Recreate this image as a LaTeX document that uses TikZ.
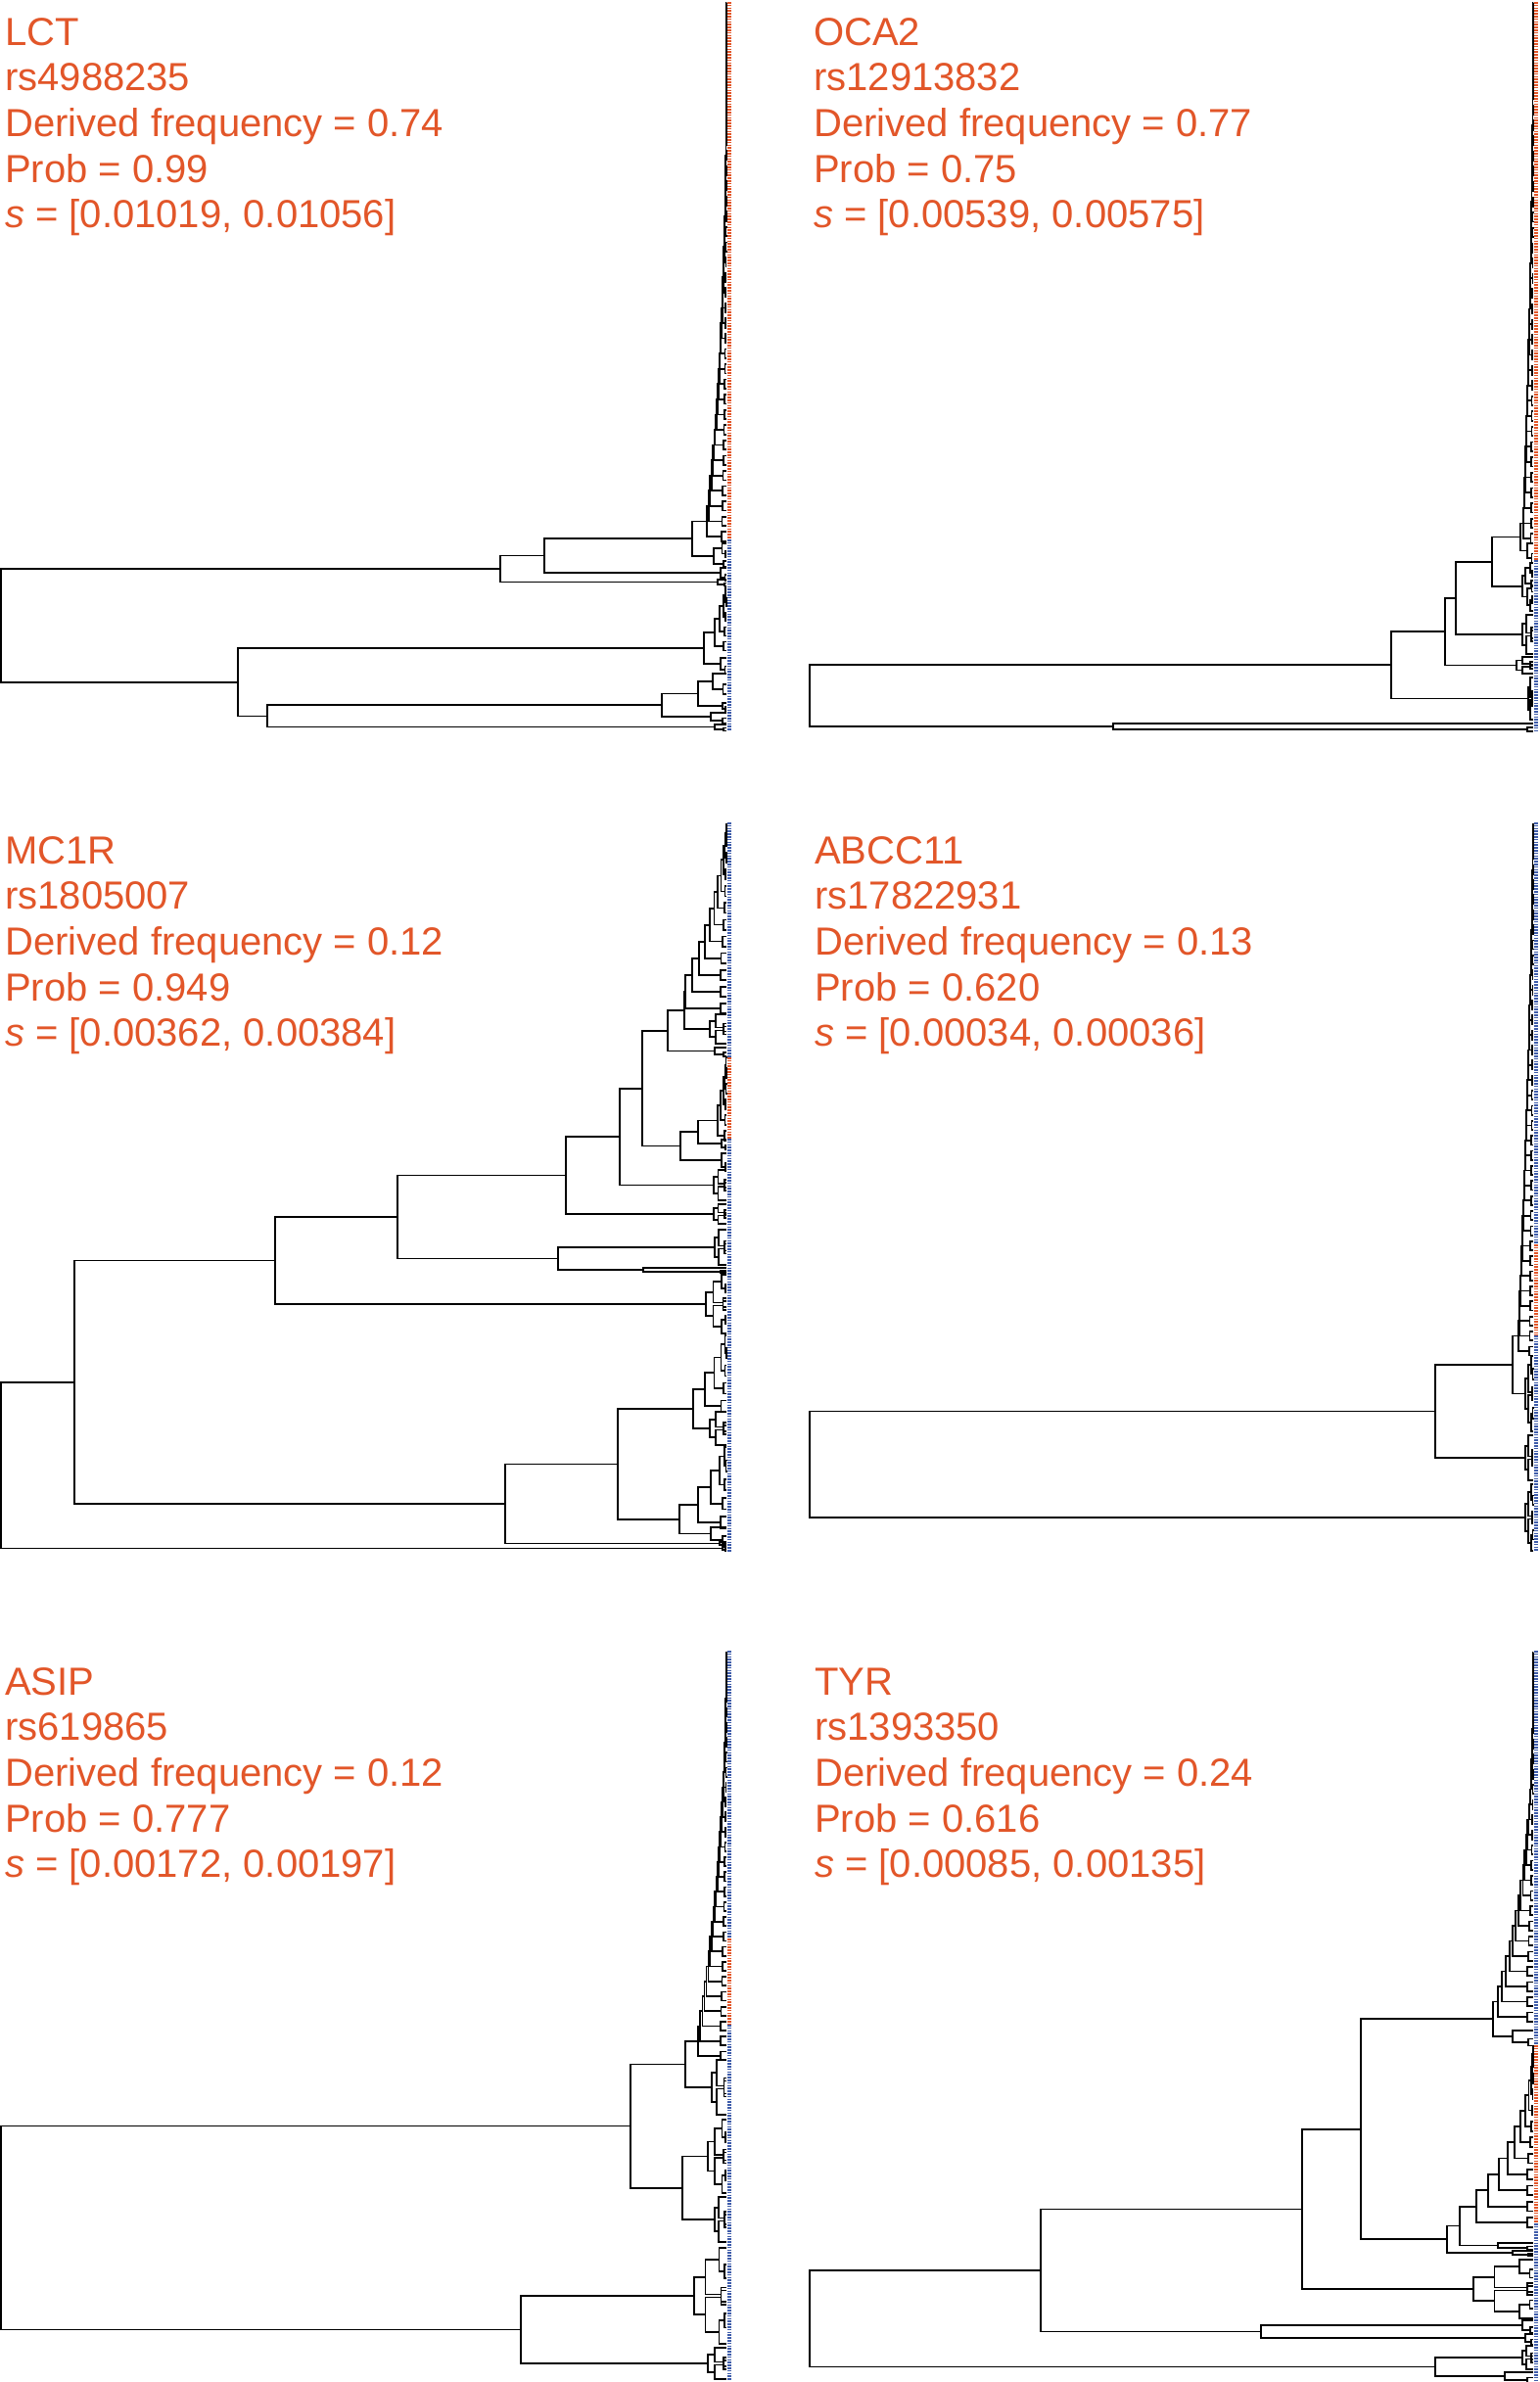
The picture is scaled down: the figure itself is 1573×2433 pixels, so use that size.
\documentclass[tikz,border=0pt]{standalone}
\usepackage{fontspec}
\setmainfont{Liberation Sans}
\usetikzlibrary{calc}

\definecolor{derived}{RGB}{226,86,41}
\definecolor{ancestral}{RGB}{62,92,170}

% parent node #1 at x=#2, joining children #3 and #4
\newcommand{\elbow}[4]{%
  \path let \p1=(#3), \p2=(#4) in coordinate (#1) at ({#2*1pt},{(\y1+\y2)/2});
  \draw[branch] (#3) -- (#3 -| #1) -- (#4 -| #1) -- (#4);
}

% ladder clade #1: base x #2, tip x #3, first tip y #4, last tip y #5, #6 steps, bend #7
\newcommand{\cater}[7]{%
  \pgfmathsetmacro{\stepy}{(#5-(#4))/(#6-1)}%
  \pgfmathsetmacro{\minih}{0.3*abs(\stepy)}%
  \xdef\prevx{#3}\xdef\prevy{#4}%
  \foreach \j in {2,...,#6}{%
    \pgfmathsetmacro{\nodex}{#3-(#3-(#2))*((\j-1)/(#6-1))^#7}%
    \pgfmathsetmacro{\tipy}{#4+(\j-1)*\stepy}%
    \pgfmathsetmacro{\nodey}{(\prevy+\tipy)/2}%
    \pgfmathsetmacro{\minix}{#3-min(0.25*(#3-\nodex),6)}%
    \draw[branch] (\prevx,\prevy) -| (\nodex,\tipy) -- (\minix,\tipy);%
    \draw[branch] (#3,\tipy-\minih) -| (\minix,\tipy+\minih) -- (#3,\tipy+\minih);%
    \xdef\prevx{\nodex}\xdef\prevy{\nodey}%
  }%
  \coordinate (#1) at (\prevx,\prevy);%
}

% two ladders meeting in the middle
\newcommand{\bush}[6]{%
  \pgfmathsetmacro{\bushmid}{(#4+#5)/2}%
  \pgfmathsetmacro{\bushx}{#2+0.35*(#3-#2)}%
  \pgfmathsetmacro{\bushup}{\bushmid-1.5}%
  \pgfmathsetmacro{\bushlo}{\bushmid+1.5}%
  \cater{#1u}{\bushx}{#3}{#4}{\bushup}{#6}{1.5}%
  \cater{#1l}{\bushx}{#3}{#5}{\bushlo}{#6}{1.5}%
  \elbow{#1}{#2}{#1u}{#1l}%
}

\newcommand{\panellabel}[8]{%
  \node[lbl] (#1-gene) at (#2,#3) {#4};
  \node[lbl] (#1-rs) at (#2,#3+46.7) {#5};
  \node[lbl] (#1-freq) at (#2,#3+93.4) {Derived frequency = #6};
  \node[lbl] (#1-prob) at (#2,#3+140.1) {Prob = #7};
  \node[lbl] (#1-s) at (#2,#3+186.8) {\textit{s} = [#8]};
}

\begin{document}
\begin{tikzpicture}[
  x=1pt, y=-1pt,
  branch/.style={draw=black, line width=1.7pt},
  tipmark/.style={line width=3.5pt, dash pattern=on 1.6pt off 1.2pt},
  lbl/.style={anchor=base west, inner sep=0pt, text=derived, font=\fontsize{40}{46}\selectfont}
]
\fill[white] (0,0) rectangle (1573,2433);
\useasboundingbox (0,0) rectangle (1573,2433);

% LCT
\panellabel{lct}{5}{46}{LCT}{rs4988235}{0.74}{0.99}{0.01019, 0.01056}
\cater{La}{722}{742}{3}{548}{36}{3}
\cater{Lb}{729}{742}{555}{576}{3}{1.5}
\elbow{L707}{707}{La}{Lb}
\cater{Lc}{736}{742}{580}{590}{2}{1}
\elbow{L556}{556}{L707}{Lc}
\cater{Ld}{733}{742}{592}{597}{2}{1}
\elbow{L511}{511}{L556}{Ld}
\cater{Le1}{730}{742}{600}{660}{5}{2}
\cater{Le2}{736}{742}{672}{684}{2}{1}
\elbow{L722}{719}{Le1}{Le2}
\cater{Lf1}{728}{742}{688}{704}{2}{1.5}
\cater{Lf2}{738}{742}{718}{724}{2}{1}
\elbow{Lf12}{713}{Lf1}{Lf2}
\cater{Lf3}{726}{742}{728}{736}{2}{1}
\elbow{L679}{676}{Lf12}{Lf3}
\cater{Lf4}{730}{742}{740}{745}{2}{1}
\elbow{L272}{273}{L679}{Lf4}
\elbow{L242}{243}{L722}{L272}
\elbow{Lroot}{1}{L511}{L242}
\draw[tipmark, derived] (745,2) -- (745,551);
\draw[tipmark, ancestral] (745,551) -- (745,746);

% OCA2
\panellabel{oca}{831}{46}{OCA2}{rs12913832}{0.77}{0.75}{0.00539, 0.00575}
\cater{Oa}{1556}{1566}{3}{550}{36}{2}
\cater{Ob}{1560}{1566}{555}{570}{2}{1}
\elbow{Oo}{1553}{Oa}{Ob}
\cater{Oc1}{1558}{1566}{575}{596}{3}{1.5}
\cater{Oc2}{1560}{1566}{624}{601}{3}{1}
\elbow{Oc}{1555}{Oc1}{Oc2}
\elbow{ON4}{1524}{Oo}{Oc}
\bush{Od}{1555}{1566}{628}{668}{2}
\elbow{ON3}{1487}{ON4}{Od}
\bush{Oe}{1549}{1566}{671}{688}{2}
\elbow{ON2}{1476}{ON3}{Oe}
\bush{Of}{1561}{1566}{692}{735}{2}
\elbow{ON1}{1421}{ON2}{Of}
\cater{Og}{1137}{1566}{739}{745}{2}{1}
\elbow{Oroot}{827}{ON1}{Og}
\draw[tipmark, derived] (1569,2) -- (1569,572);
\draw[tipmark, ancestral] (1569,572) -- (1569,746);

% MC1R
\panellabel{mc}{5}{882}{MC1R}{rs1805007}{0.12}{0.949}{0.00362, 0.00384}
\cater{Ma}{700}{742}{842}{1030}{12}{2}
\bush{Mb}{725}{742}{1036}{1066}{2}
\elbow{M12}{699}{Ma}{Mb}
\cater{Mc}{730}{742}{1070}{1077}{2}{1}
\elbow{M123}{682}{M12}{Mc}
\cater{Mo}{733}{742}{1080}{1160}{6}{2}
\cater{Md}{737}{742}{1164}{1172}{2}{1}
\elbow{Mo4}{713}{Mo}{Md}
\cater{Me}{737}{742}{1178}{1192}{2}{1}
\elbow{Mo45}{695}{Mo4}{Me}
\elbow{MA}{656}{M123}{Mo45}
\bush{Mf}{729}{742}{1195}{1226}{2}
\elbow{MB}{633}{MA}{Mf}
\bush{Mg}{729}{742}{1230}{1250}{2}
\elbow{MC}{578}{MB}{Mg}
\bush{Mh}{730}{742}{1256}{1292}{2}
\cater{Mi}{657}{742}{1295}{1299}{2}{1}
\elbow{M89}{570}{Mh}{Mi}
\elbow{MD}{406}{MC}{M89}
\bush{Mj}{721}{742}{1302}{1362}{3}
\elbow{ME}{281}{MD}{Mj}
\cater{Mk1}{720}{742}{1364}{1436}{5}{2}
\bush{Mk2}{725}{742}{1442}{1476}{2}
\elbow{Mk}{708}{Mk1}{Mk2}
\cater{Ml1}{713}{742}{1478}{1555}{5}{2}
\cater{Ml2}{726}{742}{1560}{1573}{2}{1}
\elbow{Ml}{694}{Ml1}{Ml2}
\elbow{MF}{631}{Mk}{Ml}
\cater{Mm}{735}{742}{1575}{1578}{2}{1}
\elbow{MG}{516}{MF}{Mm}
\elbow{MH}{76}{ME}{MG}
\cater{Mn}{738}{742}{1580}{1583}{2}{1}
\elbow{Mroot}{1}{MH}{Mn}
\draw[tipmark, ancestral] (745,840) -- (745,1080);
\draw[tipmark, derived] (745,1080) -- (745,1163);
\draw[tipmark, ancestral] (745,1163) -- (745,1585);

% ABCC11
\panellabel{ab}{832}{882}{ABCC11}{rs17822931}{0.13}{0.620}{0.00034, 0.00036}
\cater{Aa}{1551}{1566}{842}{1380}{36}{1.5}
\bush{Ab}{1558}{1566}{1385}{1462}{3}
\elbow{AA}{1545}{Aa}{Ab}
\bush{Ac}{1558}{1566}{1466}{1512}{2}
\elbow{AB}{1466}{AA}{Ac}
\bush{Ad}{1558}{1566}{1516}{1584}{3}
\elbow{Aroot}{827}{AB}{Ad}
\draw[tipmark, ancestral] (1569,840) -- (1569,1271);
\draw[tipmark, derived] (1569,1271) -- (1569,1364);
\draw[tipmark, ancestral] (1569,1364) -- (1569,1585);

% ASIP
\panellabel{as}{5}{1731}{ASIP}{rs619865}{0.12}{0.777}{0.00172, 0.00197}
\cater{Sa}{713}{742}{1688}{2100}{28}{2.2}
\bush{Sb}{727}{742}{2104}{2160}{2}
\elbow{SA}{700}{Sa}{Sb}
\bush{Sc}{723}{742}{2165}{2240}{3}
\bush{Sd}{730}{742}{2244}{2290}{2}
\elbow{SB}{697}{Sc}{Sd}
\elbow{SC}{644}{SA}{SB}
\bush{Se}{709}{742}{2296}{2394}{3}
\bush{Sf}{723}{742}{2398}{2430}{2}
\elbow{SD}{532}{Se}{Sf}
\elbow{Sroot}{1}{SC}{SD}
\draw[tipmark, ancestral] (745,1686) -- (745,1980);
\draw[tipmark, derived] (745,1980) -- (745,2068);
\draw[tipmark, ancestral] (745,2068) -- (745,2431);

% TYR
\panellabel{ty}{832}{1731}{TYR}{rs1393350}{0.24}{0.616}{0.00085, 0.00135}
\cater{Ta}{1530}{1566}{1688}{2060}{25}{3}
\cater{Tb}{1545}{1566}{2074}{2086}{2}{1}
\elbow{TA}{1525}{Ta}{Tb}
\cater{To}{1508}{1566}{2090}{2270}{12}{2.5}
\cater{Tc}{1530}{1566}{2291}{2296}{2}{1}
\elbow{TB}{1491}{To}{Tc}
\cater{Td}{1545}{1566}{2299}{2303}{2}{1}
\elbow{TC}{1478}{TB}{Td}
\elbow{TD}{1390}{TA}{TC}
\bush{Te}{1505}{1566}{2308}{2368}{3}
\elbow{TE}{1330}{TD}{Te}
\cater{Tf1}{1555}{1566}{2370}{2380}{2}{1}
\cater{Tf2}{1558}{1566}{2384}{2392}{2}{1}
\elbow{Tf}{1288}{Tf1}{Tf2}
\elbow{TG}{1063}{TE}{Tf}
\bush{Th1}{1555}{1566}{2396}{2420}{2}
\cater{Th2}{1537}{1566}{2423}{2431}{2}{1}
\elbow{Th}{1466}{Th1}{Th2}
\elbow{Troot}{827}{TG}{Th}
\draw[tipmark, ancestral] (1569,1686) -- (1569,2089);
\draw[tipmark, derived] (1569,2089) -- (1569,2271);
\draw[tipmark, ancestral] (1569,2271) -- (1569,2431);
\end{tikzpicture}
\end{document}
